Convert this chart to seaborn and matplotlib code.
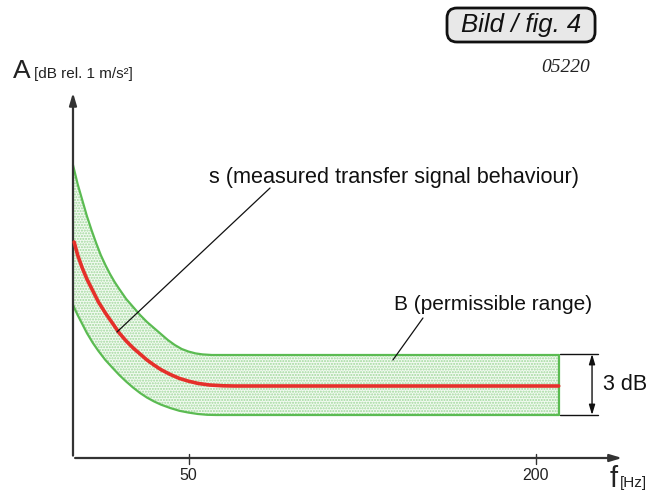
import matplotlib
matplotlib.use("Agg")
import matplotlib.pyplot as plt
from matplotlib.patches import FancyBboxPatch
import seaborn as sns
import pandas as pd
import numpy as np

# ---- data (frequency in Hz, level in dB relative to the flat signal level) ----
upper_f = [0, 2, 4, 6, 8, 10, 12, 14, 16, 18, 20, 23, 26, 29, 32, 35, 38, 41, 44, 47, 50, 53, 56, 60, 210]
upper_db = [11.05, 10.1, 9.3, 8.5, 7.8, 7.15, 6.55, 6.05, 5.6, 5.2, 4.85, 4.35, 3.95, 3.55, 3.2, 2.9,
            2.6, 2.3, 2.05, 1.85, 1.72, 1.63, 1.58, 1.55, 1.55]

signal_f = [0.5, 2, 4, 6, 8.6, 11, 14, 17, 20, 23, 26, 29, 32, 35, 38, 42, 46, 50, 54, 59, 65, 70, 210]
signal_db = [7.2, 6.55, 5.9, 5.35, 4.75, 4.2, 3.65, 3.15, 2.65, 2.25, 1.9, 1.6, 1.3, 1.05, 0.82, 0.58,
             0.38, 0.24, 0.13, 0.05, 0.01, 0.0, 0.0]

lower_f = [0, 2, 4, 6, 8.6, 11, 14, 17, 20, 23, 26, 29, 32, 35, 38, 42, 46, 50, 54, 58, 62, 210]
lower_db = [4.05, 3.55, 3.1, 2.65, 2.15, 1.75, 1.3, 0.92, 0.55, 0.22, -0.08, -0.35, -0.58, -0.77,
            -0.93, -1.1, -1.24, -1.33, -1.4, -1.44, -1.45, -1.45]

x_ticks = [50, 200]
x_tick_labels = ["50", "200"]

GREEN = "#5bbb52"
RED = "#e5302a"
AXC = "#333333"

sns.set_theme(style="white")
plt.rcParams["font.family"] = ["Liberation Sans", "DejaVu Sans"]

fig = plt.figure(figsize=(6.63, 4.97), dpi=100)
ax = fig.add_axes([0, 0, 1, 1])
ax.set_xlim(-31.56, 255.08)
ax.set_ylim(-5.55, 19.3)
ax.axis("off")

up = pd.DataFrame({"f": upper_f, "dB": upper_db})
sg = pd.DataFrame({"f": signal_f, "dB": signal_db})
lo = pd.DataFrame({"f": lower_f, "dB": lower_db})

# band fill between the two envelope curves
grid = np.linspace(0, 210, 800)
u_i = np.interp(grid, upper_f, upper_db)
l_i = np.interp(grid, lower_f, lower_db)
ax.fill_between(grid, l_i, u_i, facecolor="#f2faf1", edgecolor="#9fd89a",
                hatch="......", linewidth=0, zorder=1)

sns.lineplot(data=up, x="f", y="dB", color=GREEN, lw=1.6, ax=ax, zorder=3, sort=False)
sns.lineplot(data=lo, x="f", y="dB", color=GREEN, lw=1.6, ax=ax, zorder=3, sort=False)
sns.lineplot(data=sg, x="f", y="dB", color=RED, lw=2.6, ax=ax, zorder=4, sort=False)
ax.plot([210, 210], [lower_db[-1], upper_db[-1]], color=GREEN, lw=1.6, zorder=3)
ax.set_xlabel("")
ax.set_ylabel("")

y0 = -3.6
# axes with arrows
ax.annotate("", xy=(0, 14.8), xytext=(0, y0 - 0.02),
            arrowprops=dict(arrowstyle="-|>,head_length=0.6,head_width=0.18", color=AXC, lw=1.6))
ax.annotate("", xy=(238.6, y0), xytext=(-0.3, y0),
            arrowprops=dict(arrowstyle="-|>,head_length=0.6,head_width=0.18", color=AXC, lw=1.6))
for t, lab in zip(x_ticks, x_tick_labels):
    ax.plot([t, t], [y0 + 0.22, y0 - 0.3], color=AXC, lw=1.0)
    ax.text(t, -4.45, lab, ha="center", va="center", fontsize=11.5, color="#222222")

# axis labels
ax.text(-25.8, 15.75, "A", ha="left", va="center", fontsize=19, color="#222222")
ax.text(-16.9, 15.6, "[dB rel. 1 m/s²]", ha="left", va="center", fontsize=11, color="#222222")
ax.text(232.0, -4.65, "f", ha="left", va="center", fontsize=21, color="#222222")
ax.text(236.6, -4.85, "[Hz]", ha="left", va="center", fontsize=11, color="#222222")

# annotations
ax.text(138.6, 10.4, "s (measured transfer signal behaviour)", ha="center", va="center",
        fontsize=15.6, color="#111111")
ax.plot([19.0, 85.2], [2.7, 9.9], color="#111111", lw=0.9, zorder=5)
ax.text(181.4, 4.05, "B (permissible range)", ha="center", va="center",
        fontsize=15, color="#111111")
ax.plot([138.3, 151.3], [1.3, 3.4], color="#111111", lw=0.9, zorder=5)

# 3 dB dimension
for yy in (upper_db[-1] + 0.05, lower_db[-1]):
    ax.plot([210.5, 227.0], [yy, yy], color="#111111", lw=1.0)
ax.annotate("", xy=(224.4, upper_db[-1] + 0.05), xytext=(224.4, lower_db[-1]),
            arrowprops=dict(arrowstyle="<|-|>,head_length=0.5,head_width=0.15", color="#111111", lw=1.0,
                            shrinkA=0, shrinkB=0))
ax.text(229.0, 0.05, "3 dB", ha="left", va="center", fontsize=15.5, color="#111111")

# figure tag: rounded box
box = FancyBboxPatch((161.7, 17.2), 64.0, 1.7,
                     boxstyle="round,pad=0,rounding_size=4.3",
                     mutation_aspect=0.1157, fc="#e8e8e8", ec="#111111", lw=2, zorder=6)
ax.add_patch(box)
ax.text(193.7, 18.05, "Bild / fig. 4", ha="center", va="center", fontsize=18.5, style="italic",
        color="#111111", zorder=7)
ax.text(213.1, 15.9, "05220", ha="center", va="center", fontsize=14, style="italic",
        family=["Liberation Serif", "DejaVu Serif"], color="#222222")

fig.savefig("out.png", dpi=100)
